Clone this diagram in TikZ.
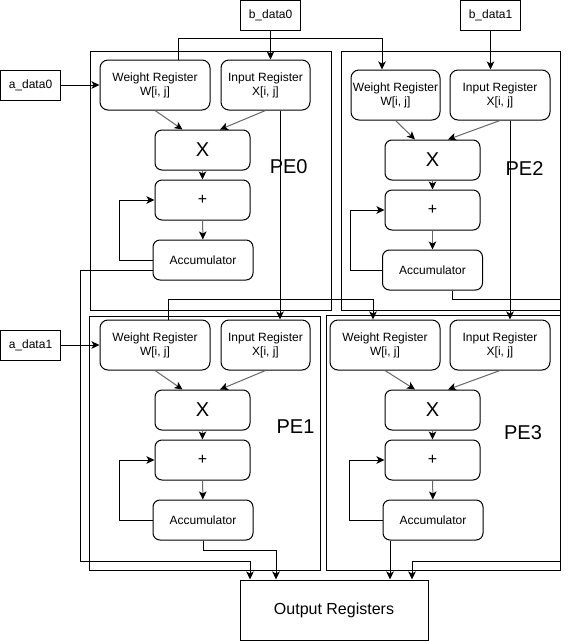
\documentclass[tikz,border=0pt]{standalone}
\usepackage{fontspec}
\setmainfont{Liberation Sans}
\usetikzlibrary{arrows.meta,positioning,calc}

\begin{document}
\begin{tikzpicture}[x=1pt,y=-1pt,>={Stealth[length=8pt,width=7.5pt,inset=2pt]},line width=1pt,
  every node/.style={font=\fontsize{12}{14}\selectfont},
  io/.style={draw,minimum width=60pt,minimum height=30pt,inner sep=1pt},
  pe/.style={draw,inner sep=0pt},
  reg/.style={draw,rounded corners=8pt,minimum height=50pt,align=center,inner sep=1pt},
  op/.style={draw,rounded corners=7pt,minimum width=95pt,minimum height=40pt},
  acc/.style={op,minimum width=100pt},
  big/.style={font=\fontsize{20}{24}\selectfont},
  plus/.style={font=\fontsize{16}{19}\selectfont},
  feed/.style={-{Stealth[length=8pt,width=7.5pt,inset=2pt,black]},draw=black!60}]
  \useasboundingbox (0,0) rectangle (569,641);

  \node[pe,minimum width=241pt,minimum height=259pt] (pe0) at (210.5,180.5) {};
  \node[pe,minimum width=231pt,minimum height=254pt] (pe1) at (204.5,443) {};
  \node[pe,minimum width=219pt,minimum height=259pt] (pe2) at (450.5,180.5) {};
  \node[pe,minimum width=234pt,minimum height=255pt] (pe3) at (443,442.5) {};
  \node[big] (l0) at (288.7,167) {PE0};
  \node[big] (l1) at (295.5,427) {PE1};
  \node[big] (l2) at (524.5,169) {PE2};
  \node[big] (l3) at (523,433) {PE3};

  \node[io] (bd0) at (270.5,15.5) {b\_data0};
  \node[io] (bd1) at (490.5,15.5) {b\_data1};
  \node[io] (ad0) at (30.5,85) {a\_data0};
  \node[io] (ad1) at (30.5,345) {a\_data1};
  \node[draw,minimum width=188pt,minimum height=60pt,font=\fontsize{16}{19}\selectfont] (out) at (334,610) {Output Registers};

  \node[reg,minimum width=110pt] (w0) at (155,85) {Weight Register\\W[i, j]};
  \node[reg,minimum width=89pt] (x0) at (265.5,85) {Input Register\\X[i, j]};
  \node[op,big] (m0) at (202.5,150) {X};
  \node[op,plus] (s0) at (202.5,200) {+};
  \node[acc] (a0) at (203,260) {Accumulator};

  \node[reg,minimum width=110pt] (w1) at (155,345) {Weight Register\\W[i, j]};
  \node[reg,minimum width=89pt] (x1) at (265.5,345) {Input Register\\X[i, j]};
  \node[op,big] (m1) at (202.5,410) {X};
  \node[op,plus] (s1) at (202.5,460) {+};
  \node[acc] (a1) at (203,520) {Accumulator};

  \node[reg,minimum width=89pt] (w2) at (395.5,95) {Weight Register\\W[i, j]};
  \node[reg,minimum width=100pt] (x2) at (500,95) {Input Register\\X[i, j]};
  \node[op,big] (m2) at (432.5,160) {X};
  \node[op,plus] (s2) at (432.5,210) {+};
  \node[acc] (a2) at (432.5,270) {Accumulator};

  \node[reg,minimum width=110pt] (w3) at (385,345) {Weight Register\\W[i, j]};
  \node[reg,minimum width=100pt] (x3) at (500,345) {Input Register\\X[i, j]};
  \node[op,big] (m3) at (432.5,410) {X};
  \node[op,plus] (s3) at (432.5,460) {+};
  \node[acc] (a3) at (433,520) {Accumulator};

  \coordinate (j0) at (80,561);
  \coordinate (r0) at (560,299);
  \coordinate (r1) at (560,561);

  \path
    (w0.south) edge[feed] ([xshift=-20pt]m0.north)
    (x0.south) edge[feed] ([xshift=17.5pt]m0.north)
    (m0) edge[feed] (s0)
    (s0) edge[feed] (a0)
    (w1.south) edge[feed] ([xshift=-20pt]m1.north)
    (x1.south) edge[feed] ([xshift=17.5pt]m1.north)
    (m1) edge[feed] (s1)
    (s1) edge[feed] (a1)
    (w2.south) edge[feed] ([xshift=-17.5pt]m2.north)
    (x2.south) edge[feed] ([xshift=15.5pt]m2.north)
    (m2) edge[feed] (s2)
    (s2) edge[feed] (a2)
    (w3.south) edge[feed] ([xshift=-17.5pt]m3.north)
    (x3.south) edge[feed] ([xshift=15.5pt]m3.north)
    (m3) edge[feed] (s3)
    (s3) edge[feed] (a3);

  \draw[->] (a0.west) -- ++(-33,0) |- (s0.west);
  \draw[->] (a1.west) -- ++(-33,0) |- (s1.west);
  \draw[->] (a2.west) -- ++(-32,0) |- (s2.west);
  \draw[->] (a3.west) -- ++(-33,0) |- (s3.west);

  \draw[->] (ad0) -- (w0);
  \draw[->] (ad1) -- (w1);
  \draw[->] (bd0) -- (bd0 |- x0.north);
  \draw[->] (bd1) -- (bd1 |- x2.north);
  \draw[->] ([xshift=23pt]w0.north) -- ++(0,-21) -| ([xshift=-13.5pt]w2.north);
  \draw[->] ([xshift=13pt]w1.north) -- ++(0,-20) -| ([xshift=-12pt]w3.north);
  \draw[->] ([xshift=14.5pt]x0.south) -- ([xshift=14.5pt]x1.north);
  \draw[->] ([xshift=10pt]x2.south) -- ([xshift=10pt]x3.north);

  \draw[->] ([yshift=-10pt]a0.west) -| (j0) -| ([xshift=-84pt]out.north);
  \draw[->] (a1.south) -- ++(0,10) -| ([xshift=-58pt]out.north);
  \draw[->] ([xshift=20pt]a2.south) |- (r0) -- (r1) -| ([xshift=78pt]out.north);
  \draw[->] ([xshift=-43pt]a3.south) -- ([xshift=56pt]out.north);
\end{tikzpicture}
\end{document}
